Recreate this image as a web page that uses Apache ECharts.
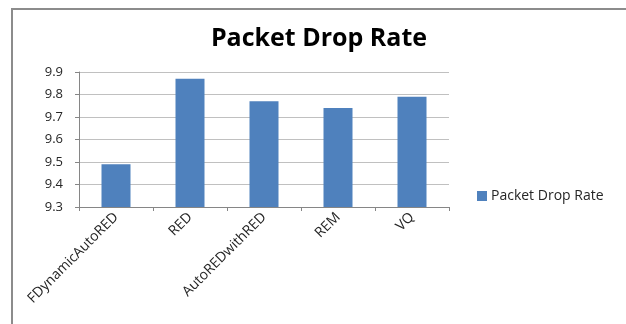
<!DOCTYPE html>
<html>
<head>
<meta charset="utf-8">
<script src="https://cdn.jsdelivr.net/npm/echarts@6/dist/echarts.min.js"></script>
<style>
html,body{margin:0;padding:0;background:#fff;}
#chart{width:626px;height:324px;}
</style>
</head>
<body>
<div id="chart"></div>
<script>
var categories = ['FDynamicAutoRED', 'RED', 'AutoREDwithRED', 'REM', 'VQ'];
var packetDropRate = [9.49, 9.87, 9.77, 9.74, 9.79];
var seriesName = 'Packet Drop Rate';
var titleText = 'Packet Drop Rate';

var chart = echarts.init(document.getElementById('chart'), null, {renderer: 'canvas'});
var font = 'Open Sans, Liberation Sans, sans-serif';
chart.setOption({
  animation: false,
  backgroundColor: '#fff',
  graphic: [{
    type: 'rect',
    shape: {x: 12, y: 9, width: 700, height: 400},
    style: {fill: 'none', stroke: '#8c8c8c', lineWidth: 2},
    silent: true
  }],
  title: {
    text: titleText,
    left: 314, textAlign: 'center',
    top: 21,
    textStyle: {fontFamily: font, fontWeight: 'bold', fontSize: 25, color: '#000'}
  },
  legend: {
    data: [seriesName],
    left: 472, top: 184,
    itemWidth: 10, itemHeight: 10, itemGap: 4,
    icon: 'rect',
    textStyle: {fontFamily: font, fontSize: 14, color: '#262626', padding: [0,0,0,-1]}
  },
  grid: {left: 79, top: 72, right: 177, bottom: 117, containLabel: false},
  xAxis: {
    type: 'category',
    data: categories,
    axisLine: {lineStyle: {color: '#868686', width: 1}},
    axisTick: {show: true, alignWithLabel: false, length: 4, lineStyle: {color: '#868686'}},
    axisLabel: {rotate: 45, interval: 0, fontFamily: font, fontSize: 14, color: '#262626', margin: 8}
  },
  yAxis: {
    type: 'value',
    min: 9.3, max: 9.9, interval: 0.1,
    axisLine: {show: true, lineStyle: {color: '#868686'}},
    axisTick: {show: true, length: 4, lineStyle: {color: '#868686'}},
    splitLine: {lineStyle: {color: '#c0c0c0', width: 1}},
    axisLabel: {fontFamily: font, fontSize: 13, color: '#262626', margin: 16,
      formatter: function (v) { return v.toFixed(1); }}
  },
  series: [{
    name: seriesName,
    type: 'bar',
    data: packetDropRate,
    barWidth: 29,
    itemStyle: {color: '#4f81bd'}
  }]
});
</script>
</body>
</html>
